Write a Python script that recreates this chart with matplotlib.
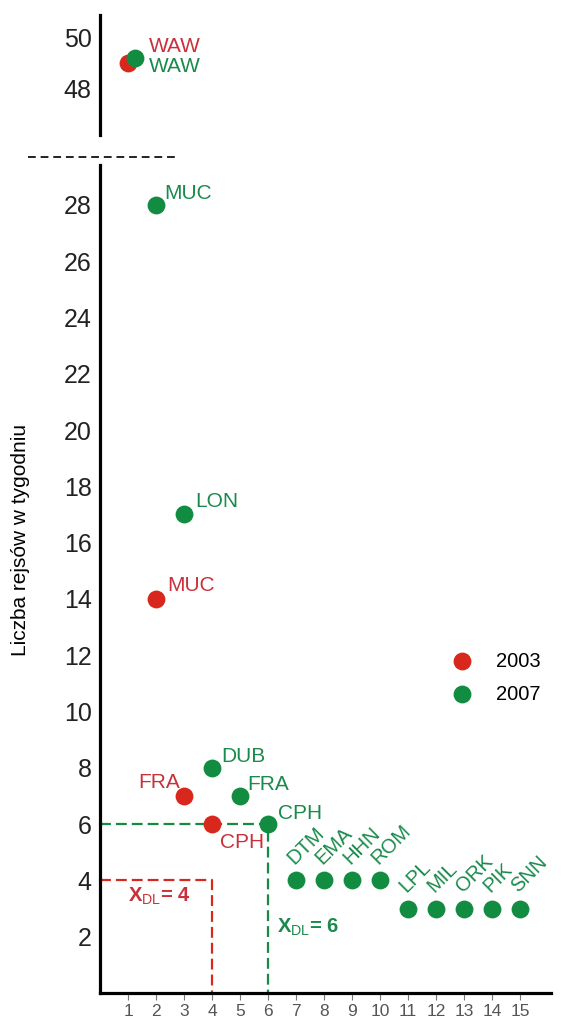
import matplotlib
matplotlib.use("Agg")
import matplotlib.pyplot as plt

plt.rcParams['font.family'] = ['Liberation Sans', 'DejaVu Sans']
plt.rcParams['mathtext.fontset'] = 'custom'
plt.rcParams['mathtext.rm'] = 'Liberation Sans'
plt.rcParams['mathtext.bf'] = 'Liberation Sans:bold'

CZERWONY = "#d8281e"
ZIELONY = "#128c41"
TXT_CZ = "#c9303a"
TXT_ZI = "#1a8a4c"

# lotniska 2003 (x = ranga, y = liczba rejsów tygodniowo)
lot_2003 = ["WAW", "MUC", "FRA", "CPH"]
x_2003 = [1, 2, 3, 4]
y_2003 = [49, 14, 7, 6]

# lotniska 2007
lot_2007 = ["WAW", "MUC", "LON", "DUB", "FRA", "CPH", "DTM", "EMA", "HHN", "ROM",
            "LPL", "MIL", "ORK", "PIK", "SNN"]
x_2007 = [1.25, 2, 3, 4, 5, 6, 7, 8, 9, 10, 11, 12, 13, 14, 15]
y_2007 = [49.2, 28, 17, 8, 7, 6, 4, 4, 4, 4, 3, 3, 3, 3, 3]

xdl_2003 = 4
xdl_2007 = 6

# przesunięcia etykiet (w punktach)
off_2003 = {"WAW": (15, 12), "MUC": (8, 10), "FRA": (-3, 10), "CPH": (6, -13)}
off_2007 = {"WAW": (10, -6.5), "MUC": (6, 8), "LON": (8, 9), "DUB": (7, 8),
            "FRA": (5, 8), "CPH": (7, 8)}

fig = plt.figure(figsize=(5.66, 10.21), dpi=100)
ax = fig.add_axes([0.1767, 0.0274, 0.7963, 0.8106])
ax_g = fig.add_axes([0.1767, 0.8678, 0.7963, 0.1175])

XMAX = 16.1
for a in (ax, ax_g):
    a.set_xlim(0, XMAX)
    a.spines['top'].set_visible(False)
    a.spines['right'].set_visible(False)
    a.spines['left'].set_linewidth(2.3)
    a.spines['bottom'].set_linewidth(2.3)
    a.tick_params(axis='y', length=0, labelsize=18, pad=6, colors="#222222")

ax.set_ylim(0, 29.4)
ax_g.set_ylim(46.2, 50.86)
ax_g.spines['bottom'].set_visible(False)
ax_g.set_xticks([])
ax_g.set_yticks([48, 50])

ax.set_yticks(range(2, 29, 2))
ax.set_xticks(range(1, 16))
ax.tick_params(axis='x', length=5, width=0.8, colors="#777777", labelsize=12.5, pad=3)
ax.tick_params(axis='x', labelcolor="#555555")
ax.set_ylabel("Liczba rejsów w tygodniu", fontsize=15)
ax.yaxis.set_label_coords(-0.155, 0.547)

# linie progowe X_DL
dash = (0, (4.9, 2.25))
ax.plot([0, xdl_2007, xdl_2007], [y_2007[5], y_2007[5], 0], color=ZIELONY, lw=1.6, linestyle=dash, zorder=1)
ax.plot([0, xdl_2003, xdl_2003], [xdl_2003, xdl_2003, 0], color=CZERWONY, lw=1.6, linestyle=dash, zorder=1)

ax.text(1.0, 3.45, r"$\mathbf{X}_{\mathrm{DL}}$" + "= %d" % xdl_2003, fontweight='bold',
        color=TXT_CZ, fontsize=14.5, va='center', ha='left')
ax.text(6.34, 2.34, r"$\mathbf{X}_{\mathrm{DL}}$" + "= %d" % xdl_2007, fontweight='bold',
        color=TXT_ZI, fontsize=14.5, va='center', ha='left')

# punkty
for a in (ax, ax_g):
    a.scatter(x_2003, y_2003, s=165, color=CZERWONY, zorder=3, linewidths=0)
    a.scatter(x_2007, y_2007, s=165, color=ZIELONY, zorder=4, linewidths=0)

def etykieta(a, nazwa, x, y, off, kolor, rozmiar=15):
    ha = 'right' if off[0] < 0 else 'left'
    a.annotate(nazwa, (x, y), xytext=off, textcoords='offset points',
               color=kolor, fontsize=rozmiar, ha=ha, va='center')

for n, x, y in zip(lot_2003, x_2003, y_2003):
    etykieta(ax_g if n == "WAW" else ax, n, x, y, off_2003[n], TXT_CZ)

for n, x, y in zip(lot_2007, x_2007, y_2007):
    if n in off_2007:
        etykieta(ax_g if n == "WAW" else ax, n, x, y, off_2007[n], TXT_ZI)
    else:
        ax.annotate(n, (x, y), xytext=(-1, 11), textcoords='offset points',
                    color=TXT_ZI, fontsize=14.5, rotation=45, rotation_mode='anchor',
                    ha='left', va='baseline')

# legenda
h1 = ax.scatter([], [], s=165, color=CZERWONY, linewidths=0)
h2 = ax.scatter([], [], s=165, color=ZIELONY, linewidths=0)
ax.legend([h1, h2], ["2003", "2007"], frameon=False, fontsize=14.5,
          loc='center left', bbox_to_anchor=(0.781, 0.381),
          handlelength=1.0, handletextpad=1.2, labelspacing=0.69,
          borderpad=0, borderaxespad=0)

# przerwa osi
fig.add_artist(plt.Line2D([28 / 566, 175 / 566], [1 - 157 / 1021, 1 - 157 / 1021],
                          color="#222222", lw=1.4, linestyle=(0, (4, 2.5))))

fig.savefig("out.png", dpi=100)
